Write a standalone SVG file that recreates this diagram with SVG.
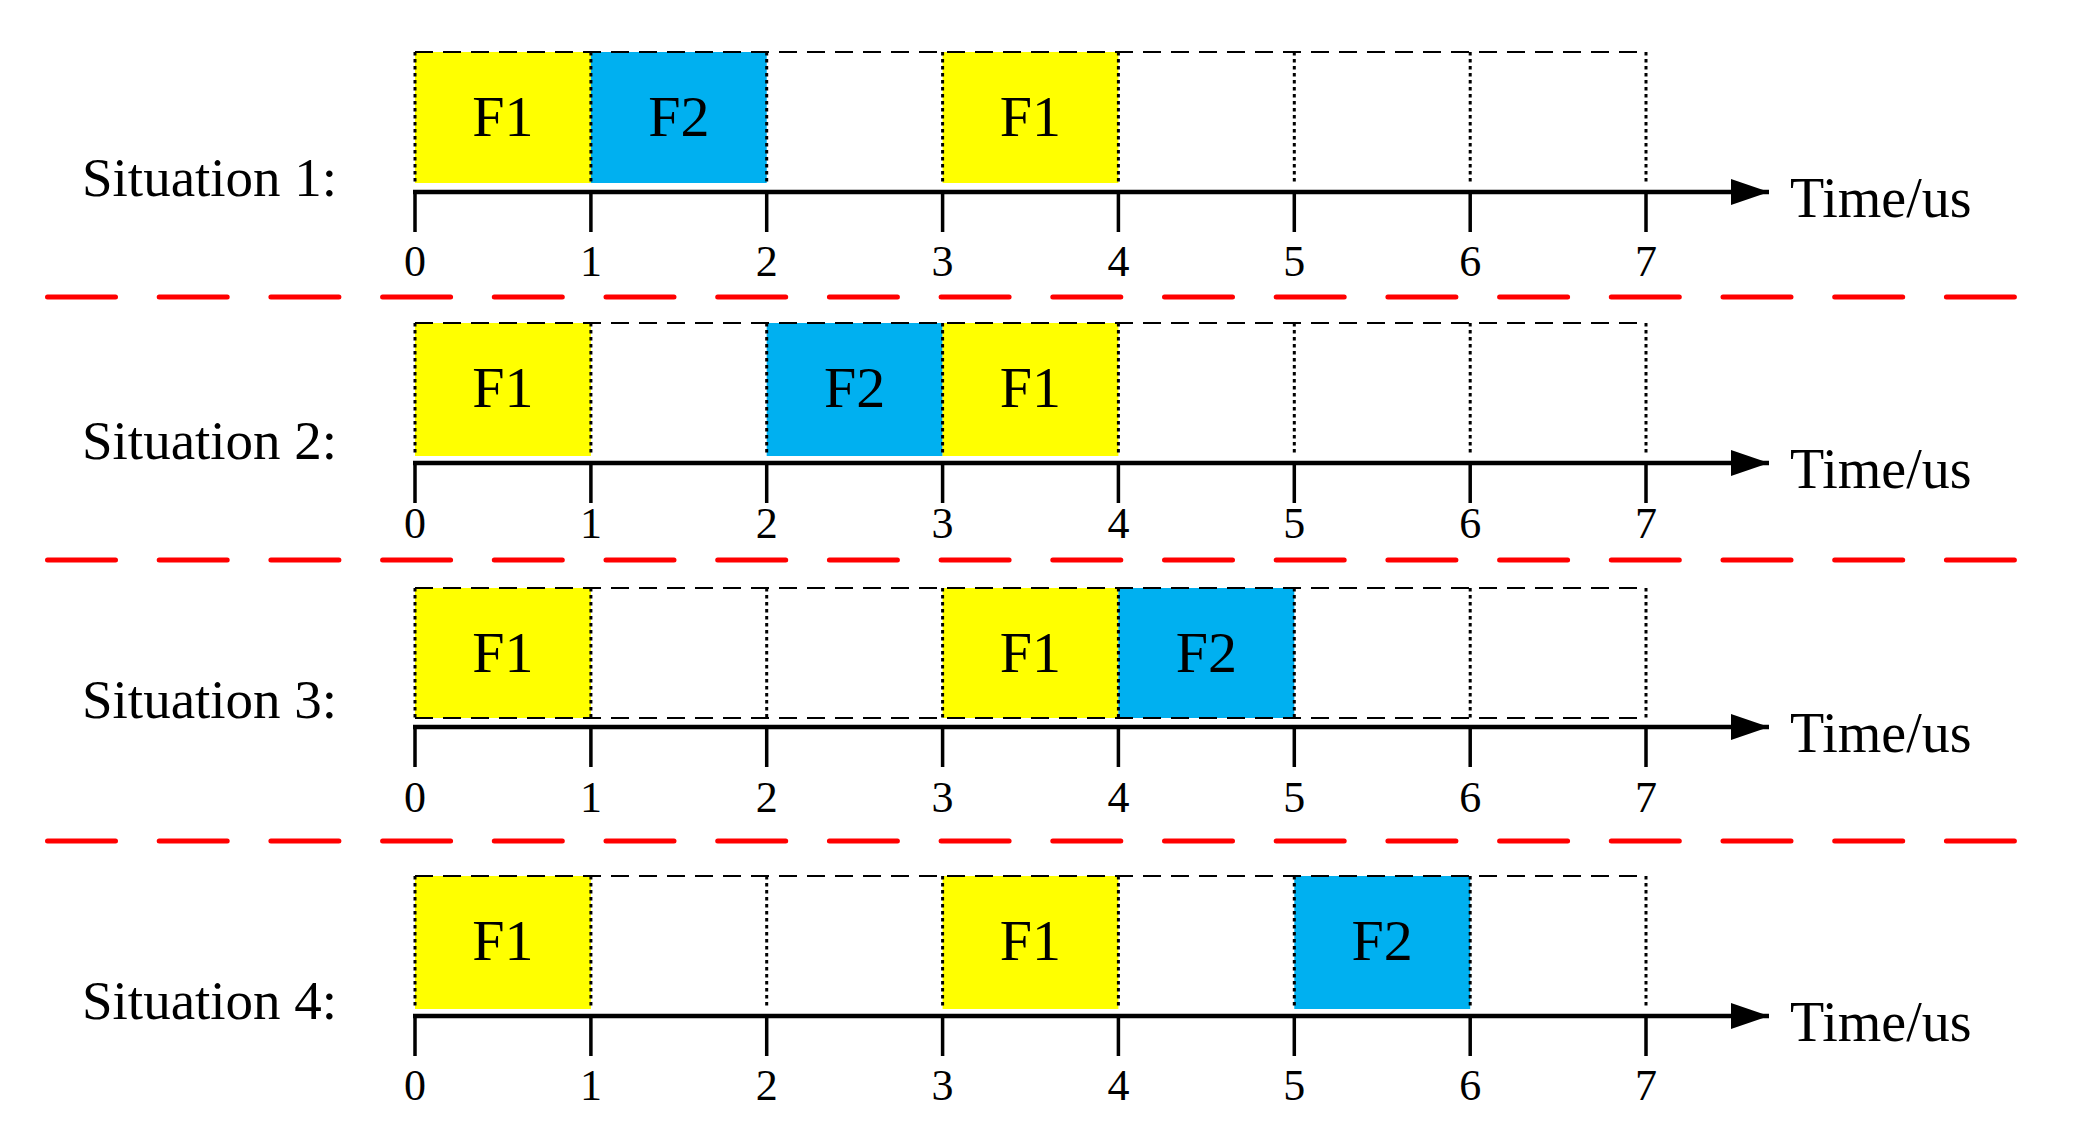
<svg xmlns="http://www.w3.org/2000/svg" width="2090" height="1140" viewBox="0 0 2090 1140">
<style>
text{font-family:"Liberation Serif","Times New Roman",serif;fill:#000}
.sit{font-size:55px}
.f{font-size:58px;text-anchor:middle}
.d{font-size:44px;text-anchor:middle}
.t{font-size:56px}
.y{fill:#FFFF00}
.b{fill:#00B0F0}
.top{stroke:#000;stroke-width:2;stroke-dasharray:18 10;fill:none}
.dot{stroke:#000;stroke-width:3;stroke-dasharray:3.5 3.5;fill:none}
.axis{stroke:#000;stroke-width:4.5;fill:none}
.tick{stroke:#000;stroke-width:3.5;fill:none}
.sep{stroke:#FF0000;stroke-width:5;stroke-linecap:round;stroke-dasharray:68 43.7;fill:none}
</style>
<defs>
<marker id="arr" markerWidth="38" markerHeight="26" refX="38" refY="13" orient="auto" markerUnits="userSpaceOnUse">
<path d="M0,0 L38,13 L0,26 Z" fill="#000"/>
</marker>
</defs>

<g id="separators">
<line class="sep" x1="47.5" y1="297" x2="2015" y2="297"/>
<line class="sep" x1="47.5" y1="560" x2="2015" y2="560"/>
<line class="sep" x1="47.5" y1="841" x2="2015" y2="841"/>
</g>

<!-- Row 1 -->
<g id="situation1">
<text class="sit" x="82" y="196">Situation 1:</text>
<g id="s1-f1a"><rect class="y" x="415" y="52" width="175.9" height="131"/><text class="f" x="503" y="136">F1</text></g>
<g id="s1-f2"><rect class="b" x="590.9" y="52" width="175.8" height="131"/><text class="f" x="678.8" y="136">F2</text></g>
<g id="s1-f1b"><rect class="y" x="942.6" y="52" width="175.8" height="131"/><text class="f" x="1030.5" y="136">F1</text></g>
<line class="top" x1="415" y1="52" x2="1646" y2="52"/>
<path class="dot" d="M415,52V183M590.9,52V183M766.7,52V183M942.6,52V183M1118.4,52V183M1294.3,52V183M1470.2,52V183M1646,52V183"/>
<line class="axis" x1="413" y1="192" x2="1769" y2="192" marker-end="url(#arr)"/>
<path class="tick" d="M415,192V232M590.9,192V232M766.7,192V232M942.6,192V232M1118.4,192V232M1294.3,192V232M1470.2,192V232M1646,192V232"/>
<text class="d" x="415" y="276">0</text><text class="d" x="590.9" y="276">1</text><text class="d" x="766.7" y="276">2</text><text class="d" x="942.6" y="276">3</text><text class="d" x="1118.4" y="276">4</text><text class="d" x="1294.3" y="276">5</text><text class="d" x="1470.2" y="276">6</text><text class="d" x="1646" y="276">7</text>
<text class="t" x="1790" y="217">Time/us</text>
</g>

<!-- Row 2 -->
<g id="situation2">
<text class="sit" x="82" y="459">Situation 2:</text>
<g id="s2-f1a"><rect class="y" x="415" y="323" width="175.9" height="133"/><text class="f" x="503" y="407">F1</text></g>
<g id="s2-f2"><rect class="b" x="766.7" y="323" width="175.9" height="133"/><text class="f" x="854.6" y="407">F2</text></g>
<g id="s2-f1b"><rect class="y" x="942.6" y="323" width="175.8" height="133"/><text class="f" x="1030.5" y="407">F1</text></g>
<line class="top" x1="415" y1="323" x2="1646" y2="323"/>
<path class="dot" d="M415,323V456M590.9,323V456M766.7,323V456M942.6,323V456M1118.4,323V456M1294.3,323V456M1470.2,323V456M1646,323V456"/>
<line class="axis" x1="413" y1="463" x2="1769" y2="463" marker-end="url(#arr)"/>
<path class="tick" d="M415,463V503M590.9,463V503M766.7,463V503M942.6,463V503M1118.4,463V503M1294.3,463V503M1470.2,463V503M1646,463V503"/>
<text class="d" x="415" y="538">0</text><text class="d" x="590.9" y="538">1</text><text class="d" x="766.7" y="538">2</text><text class="d" x="942.6" y="538">3</text><text class="d" x="1118.4" y="538">4</text><text class="d" x="1294.3" y="538">5</text><text class="d" x="1470.2" y="538">6</text><text class="d" x="1646" y="538">7</text>
<text class="t" x="1790" y="488">Time/us</text>
</g>

<!-- Row 3 -->
<g id="situation3">
<text class="sit" x="82" y="718">Situation 3:</text>
<g id="s3-f1a"><rect class="y" x="415" y="588" width="175.9" height="130"/><text class="f" x="503" y="672">F1</text></g>
<g id="s3-f1b"><rect class="y" x="942.6" y="588" width="175.8" height="130"/><text class="f" x="1030.5" y="672">F1</text></g>
<g id="s3-f2"><rect class="b" x="1118.4" y="588" width="175.9" height="130"/><text class="f" x="1206.4" y="672">F2</text></g>
<line class="top" x1="415" y1="588" x2="1646" y2="588"/>
<line class="top" x1="415" y1="718" x2="1646" y2="718"/>
<path class="dot" d="M415,588V718M590.9,588V718M766.7,588V718M942.6,588V718M1118.4,588V718M1294.3,588V718M1470.2,588V718M1646,588V718"/>
<line class="axis" x1="413" y1="727" x2="1769" y2="727" marker-end="url(#arr)"/>
<path class="tick" d="M415,727V767M590.9,727V767M766.7,727V767M942.6,727V767M1118.4,727V767M1294.3,727V767M1470.2,727V767M1646,727V767"/>
<text class="d" x="415" y="812">0</text><text class="d" x="590.9" y="812">1</text><text class="d" x="766.7" y="812">2</text><text class="d" x="942.6" y="812">3</text><text class="d" x="1118.4" y="812">4</text><text class="d" x="1294.3" y="812">5</text><text class="d" x="1470.2" y="812">6</text><text class="d" x="1646" y="812">7</text>
<text class="t" x="1790" y="752">Time/us</text>
</g>

<!-- Row 4 -->
<g id="situation4">
<text class="sit" x="82" y="1019">Situation 4:</text>
<g id="s4-f1a"><rect class="y" x="415" y="876" width="175.9" height="133"/><text class="f" x="503" y="960">F1</text></g>
<g id="s4-f1b"><rect class="y" x="942.6" y="876" width="175.8" height="133"/><text class="f" x="1030.5" y="960">F1</text></g>
<g id="s4-f2"><rect class="b" x="1294.3" y="876" width="175.9" height="133"/><text class="f" x="1382.2" y="960">F2</text></g>
<line class="top" x1="415" y1="876" x2="1646" y2="876"/>
<path class="dot" d="M415,876V1009M590.9,876V1009M766.7,876V1009M942.6,876V1009M1118.4,876V1009M1294.3,876V1009M1470.2,876V1009M1646,876V1009"/>
<line class="axis" x1="413" y1="1016" x2="1769" y2="1016" marker-end="url(#arr)"/>
<path class="tick" d="M415,1016V1056M590.9,1016V1056M766.7,1016V1056M942.6,1016V1056M1118.4,1016V1056M1294.3,1016V1056M1470.2,1016V1056M1646,1016V1056"/>
<text class="d" x="415" y="1100">0</text><text class="d" x="590.9" y="1100">1</text><text class="d" x="766.7" y="1100">2</text><text class="d" x="942.6" y="1100">3</text><text class="d" x="1118.4" y="1100">4</text><text class="d" x="1294.3" y="1100">5</text><text class="d" x="1470.2" y="1100">6</text><text class="d" x="1646" y="1100">7</text>
<text class="t" x="1790" y="1041">Time/us</text>
</g>
</svg>
